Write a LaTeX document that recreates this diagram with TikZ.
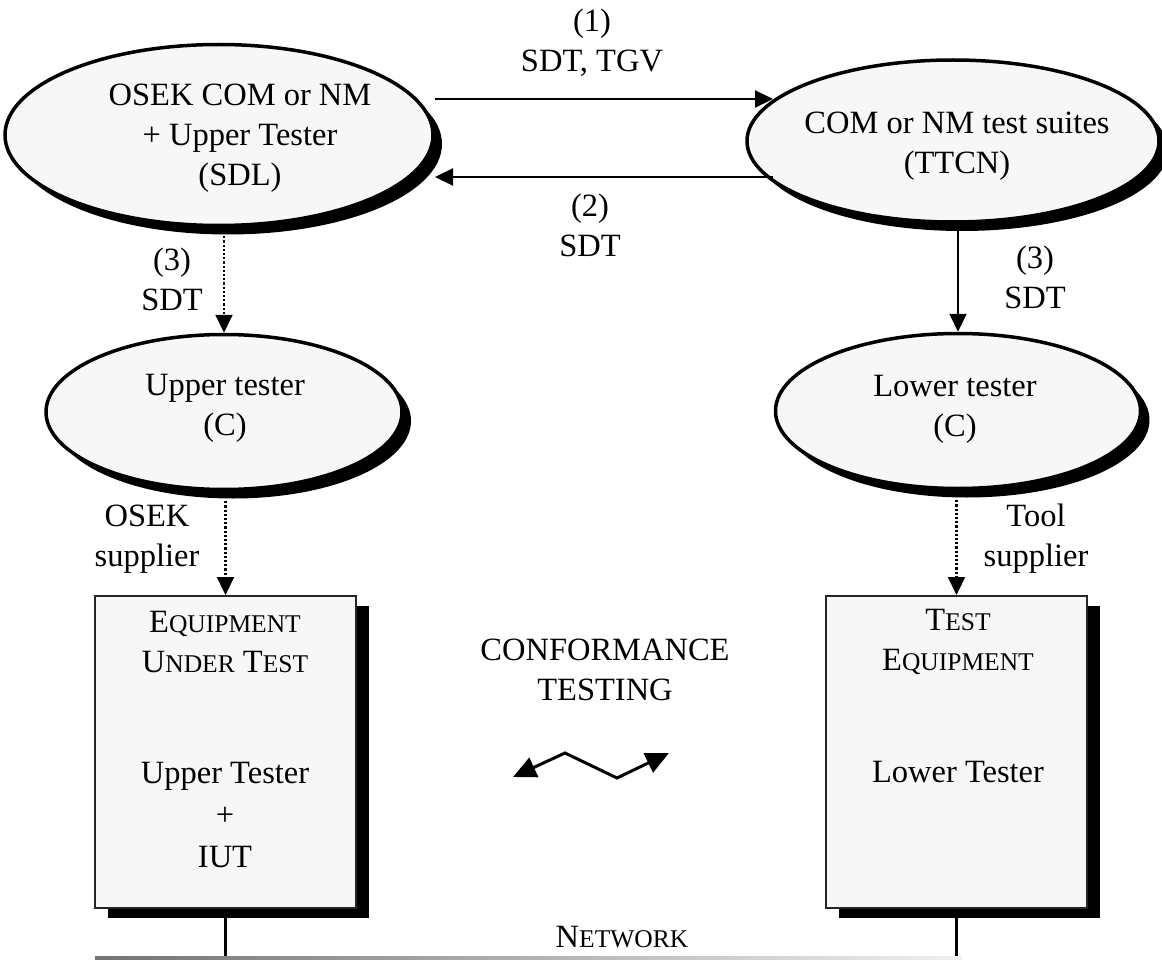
\documentclass[tikz,border=0pt]{standalone}
\usepackage{fontspec}
\setmainfont{Liberation Serif}
\usetikzlibrary{shapes.geometric,arrows.meta,shadows,calc}
\newcommand\smcp[1]{{\fontsize{25.5pt}{30pt}\selectfont #1}}
\begin{document}
\begin{tikzpicture}[x=1pt,y=-1pt,
  txt/.style={font=\fontsize{32.5pt}{40pt}\selectfont, align=center, inner sep=0pt},
  ell/.style={ellipse, draw=black, line width=3.5pt, fill=black!3, inner sep=0pt,
    drop shadow={shadow xshift=9pt, shadow yshift=-9pt, opacity=1, fill=black}},
  eqbox/.style={rectangle, draw=black!85, line width=2pt, fill=black!3, inner sep=0pt,
    drop shadow={shadow xshift=13pt, shadow yshift=-10pt, opacity=1, fill=black}},
  arr/.style={line width=2.2pt, -{Triangle[length=18pt,width=17pt]}},
  dotarr/.style={arr, dash pattern=on 2.2pt off 2pt},
  bigtip/.style={line width=3pt, {Triangle[length=23pt,width=21pt]}-{Triangle[length=23pt,width=21pt]}},
]
\useasboundingbox (0,0) rectangle (1162,960);

% ellipses
\node[ell, minimum width=428pt, minimum height=181pt] (e1) at (219,135) {};
\node[txt] (t1) at (240,138) {OSEK COM or NM\\+ Upper Tester\\(SDL)};
\node[ell, minimum width=412pt, minimum height=162pt] (e2) at (953,141) {};
\node[txt] (t2) at (957,146) {COM or NM test suites\\(TTCN)};
\node[ell, minimum width=356pt, minimum height=155pt] (e3) at (224,412) {};
\node[txt] (t3) at (225,408) {Upper tester\\(C)};
\node[ell, minimum width=365pt, minimum height=155pt] (e4) at (958,411) {};
\node[txt] (t4) at (955,409) {Lower tester\\(C)};

% boxes
\coordinate (net) at (0,958);
\draw[line width=3.2pt] (225.5,908) -- (225.5,958);
\draw[line width=3.2pt] (956.5,908) -- (956.5,958);
\node[eqbox, minimum width=261pt, minimum height=312pt] (b1) at (225.5,752) {};
\node[eqbox, minimum width=261pt, minimum height=312pt] (b2) at (956.5,752) {};
\node[txt] (b1a) at (225,642) {E\smcp{QUIPMENT}\\U\smcp{NDER} T\smcp{EST}};
\node[txt, font=\fontsize{32.5pt}{42pt}\selectfont] (b1b) at (225,815) {Upper Tester\\+\\IUT};
\node[txt] (b2a) at (958,642) {T\smcp{EST}\\E\smcp{QUIPMENT}};
\node[txt] (b2b) at (958,772) {Lower Tester};

% network
\shade[left color=black!55, right color=black!6] (95,956) rectangle (962,960);
\node[txt] (netlbl) at (622,937) {N\smcp{ETWORK}};

% labels
\node[txt] (l1) at (592,43) {(1)\\SDT, TGV};
\node[txt] (l2) at (590,225) {(2)\\SDT};
\node[txt] (l3a) at (172,279) {(3)\\SDT};
\node[txt] (l3b) at (1035,277) {(3)\\SDT};
\node[txt] (l4a) at (147,539) {OSEK\\supplier};
\node[txt] (l4b) at (1036,539) {Tool\\supplier};
\node[txt] (conf) at (605,670) {CONFORMANCE\\TESTING};

% connectors
\coordinate (a1s) at (435,99);
\coordinate (a1e) at (773,99);
\coordinate (a2s) at (773,177);
\coordinate (a2e) at (435,177);
\draw[arr] (a1s) -- (a1e);
\draw[arr] (a2s) -- (a2e);
\draw[dotarr] ([yshift=-9pt]e3.north |- e1.south) -- (e3.north);
\draw[arr] ([yshift=-7pt]e4.north |- e2.south) -- (e4.north);
\draw[dotarr] ([yshift=-10pt]b1.north |- e3.south) -- (b1.north);
\draw[dotarr] ([yshift=-10pt]b2.north |- e4.south) -- (b2.north);

% zigzag
\coordinate (z1) at (513,777);
\coordinate (z2) at (565,753);
\coordinate (z3) at (617,778);
\coordinate (z4) at (669,753);
\draw[bigtip] (z1) -- (z2) -- (z3) -- (z4);
\end{tikzpicture}
\end{document}
